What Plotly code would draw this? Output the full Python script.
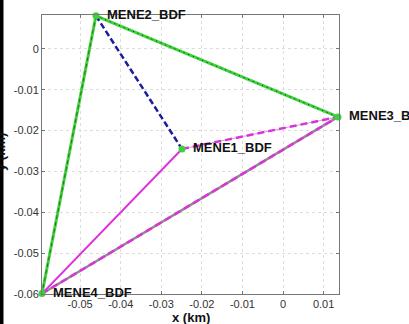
import plotly.graph_objects as go

# Station coordinates (km)
stations = ["MENE1_BDF", "MENE2_BDF", "MENE3_BDF", "MENE4_BDF"]
xs = [-0.0249, -0.0461, 0.01355, -0.0594]
ys = [-0.0245, 0.0081, -0.01665, -0.0599]

x_ticks = [-0.05, -0.04, -0.03, -0.02, -0.01, 0, 0.01]
x_ticktext = ["-0.05", "-0.04", "-0.03", "-0.02", "-0.01", "0", "0.01"]
y_ticks = [-0.06, -0.05, -0.04, -0.03, -0.02, -0.01, 0]
y_ticktext = ["-0.06", "-0.05", "-0.04", "-0.03", "-0.02", "-0.01", "0"]

GREEN = "#3cd23c"
MAGENTA = "#dc32dc"
NAVY = "#1c1ca0"
GRAY = "#8c8c8c"

W, H = 409, 324
ML, MR, MT, MB = 42, 70, 15, 30
PW, PH = W - ML - MR, H - MT - MB

idx = {n: i for i, n in enumerate(stations)}


def seg(a, b):
    i, j = idx[a], idx[b]
    return [xs[i], xs[j]], [ys[i], ys[j]]


fig = go.Figure()


def add(a, b, color, width, dash="solid"):
    sx, sy = seg(a, b)
    fig.add_trace(go.Scatter(x=sx, y=sy, mode="lines",
                             line=dict(color=color, width=width, dash=dash),
                             hoverinfo="skip", showlegend=False,
                             cliponaxis=False))


# MENE2 - MENE3: green with fine black dots
add("MENE2_BDF", "MENE3_BDF", GREEN, 3)
add("MENE2_BDF", "MENE3_BDF", "#1a1a1a", 1, "1px,4px")
# MENE2 - MENE4: green with dark dashes
add("MENE2_BDF", "MENE4_BDF", GREEN, 3)
add("MENE2_BDF", "MENE4_BDF", "#3a4a20", 0.8, "4px,3px")
# MENE2 - MENE1: navy dashed
add("MENE2_BDF", "MENE1_BDF", NAVY, 2.5, "6px,3px")
# MENE1 - MENE4: magenta solid
add("MENE1_BDF", "MENE4_BDF", MAGENTA, 2)
# MENE1 - MENE3: magenta dashed
add("MENE1_BDF", "MENE3_BDF", "#c8a8c8", 1, "solid")
add("MENE1_BDF", "MENE3_BDF", MAGENTA, 2.5, "7px,4px")
# MENE4 - MENE3: magenta dashed over gray
add("MENE4_BDF", "MENE3_BDF", GRAY, 2.5)
add("MENE4_BDF", "MENE3_BDF", MAGENTA, 2.5, "7px,4px")

# station markers
fig.add_trace(go.Scatter(x=xs, y=ys, mode="markers",
                         marker=dict(color=GREEN, size=7),
                         hoverinfo="skip", showlegend=False,
                         cliponaxis=False))

for n, x, y in zip(stations, xs, ys):
    fig.add_annotation(x=x, y=y, text="<b>" + n + "</b>", showarrow=False,
                       xanchor="left", yanchor="middle", xshift=10, yshift=1,
                       font=dict(family="Arial", size=13, color="#111111"),
                       borderpad=0)

# axis titles
fig.add_annotation(xref="paper", yref="paper", x=0.5, y=(-(317 - MT - PH)) / PH,
                   text="<b>x (km)</b>", showarrow=False,
                   xanchor="center", yanchor="middle",
                   font=dict(family="Arial", size=13, color="#111111"))
fig.add_annotation(xref="paper", yref="paper", x=(0 - ML) / PW,
                   y=(MT + PH - 152) / PH,
                   text="<b>y (km)</b>", showarrow=False, textangle=-90,
                   xanchor="center", yanchor="middle",
                   font=dict(family="Arial", size=13, color="#111111"))

# dark frame edge on the left
fig.add_shape(type="rect", xref="paper", yref="paper",
              x0=(0 - ML) / PW, x1=(3.5 - ML) / PW,
              y0=-MB / PH, y1=1 + MT / PH,
              fillcolor="black", line=dict(width=0), layer="above")

axis_common = dict(showline=True, mirror="ticks", linecolor="#777777",
                   linewidth=1, ticks="inside", ticklen=3, tickcolor="#777777",
                   showgrid=True, gridcolor="#dddddd", griddash="dot",
                   gridwidth=1, zeroline=False,
                   tickfont=dict(family="Arial", size=11, color="#333333"))

fig.update_xaxes(range=[xs[3], 0.0138], tickvals=x_ticks, ticktext=x_ticktext,
                 **axis_common)
fig.update_yaxes(range=[-0.0600, 0.0083], tickvals=y_ticks, ticktext=y_ticktext,
                 **axis_common)

fig.update_layout(width=W, height=H,
                  margin=dict(l=ML, r=MR, t=MT, b=MB, pad=0),
                  paper_bgcolor="white", plot_bgcolor="white")

fig.write_html("out.html")
